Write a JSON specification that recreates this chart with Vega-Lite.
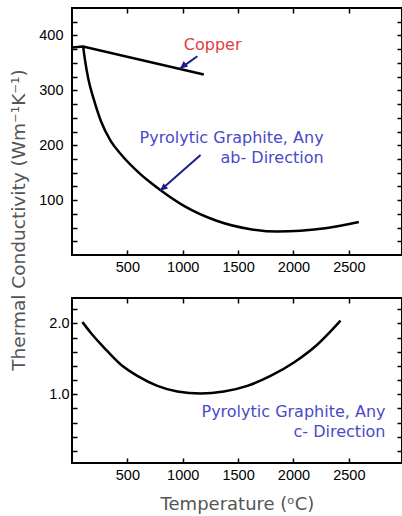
{
  "$schema": "https://vega.github.io/schema/vega-lite/v6.json",
  "padding": {"left": 7, "top": 6, "right": 0, "bottom": 0},
  "background": "white",
  "spacing": 43,
  "bounds": "flush",
  "config": {
    "view": {"stroke": "black", "strokeWidth": 2},
    "axis": {"domain": false, "grid": false, "ticks": true, "zindex": 1, "tickColor": "black", "tickOpacity": 1, "tickWidth": 1.5, "tickSize": -5,
      "labelFont": "Liberation Sans", "labelFontSize": 14.5, "labelColor": "black",
      "titleFont": "DejaVu Sans", "titleFontSize": 18, "titleColor": "#555", "titleFontWeight": "normal"},
    "text": {"font": "DejaVu Sans", "fontSize": 16}
  },
  "datasets": {
    "copper": [
      {"temp": 0, "k": 378},
      {"temp": 100, "k": 380},
      {"temp": 1190, "k": 329}
    ],
    "ab": [
      {"temp": 100, "k": 381},
      {"temp": 116, "k": 357},
      {"temp": 148, "k": 320},
      {"temp": 199, "k": 282},
      {"temp": 259, "k": 245},
      {"temp": 349, "k": 208},
      {"temp": 440, "k": 184},
      {"temp": 620, "k": 147},
      {"temp": 709, "k": 132},
      {"temp": 800, "k": 118},
      {"temp": 1011, "k": 89.5},
      {"temp": 1312, "k": 62},
      {"temp": 1613, "k": 47},
      {"temp": 1854, "k": 42.6},
      {"temp": 2064, "k": 44},
      {"temp": 2305, "k": 49},
      {"temp": 2590, "k": 60}
    ],
    "bottom": [
      {"temp": 94, "k": 2.02},
      {"temp": 169, "k": 1.87},
      {"temp": 289, "k": 1.66},
      {"temp": 440, "k": 1.42},
      {"temp": 590, "k": 1.26},
      {"temp": 771, "k": 1.12},
      {"temp": 951, "k": 1.04},
      {"temp": 1162, "k": 1.01},
      {"temp": 1372, "k": 1.04},
      {"temp": 1583, "k": 1.12},
      {"temp": 1793, "k": 1.26},
      {"temp": 2004, "k": 1.45},
      {"temp": 2214, "k": 1.70},
      {"temp": 2425, "k": 2.04}
    ],
    "arrows": [
      {"x1": 1132, "y1": 362, "x2": 975, "y2": 339.5},
      {"x1": 1161, "y1": 182, "x2": 794, "y2": 117}
    ],
    "labelsTop": [
      {"material": "copper", "temp": 1270, "k": 382, "label": "Copper"},
      {"material": "graphite", "temp": 2272, "k": 212.6, "label": "Pyrolytic Graphite, Any"},
      {"material": "graphite", "temp": 2272, "k": 177, "label": "ab- Direction"}
    ],
    "labelsBottom": [
      {"material": "graphite", "temp": 2831, "k": 0.75, "label": "Pyrolytic Graphite, Any"},
      {"material": "graphite", "temp": 2831, "k": 0.47, "label": "c- Direction"}
    ]
  },
  "vconcat": [
    {
      "width": 330,
      "height": 247,
      "layer": [
        {
          "data": {"name": "ab"},
          "mark": {"type": "line", "color": "black", "strokeWidth": 2.5, "interpolate": "monotone"},
          "encoding": {
            "x": {"field": "temp", "type": "quantitative", "scale": {"domain": [0, 2980], "nice": false},
              "axis": {"orient": "bottom", "values": [500, 1000, 1500, 2000, 2500], "format": "d", "title": null, "labelPadding": 10}},
            "y": {"field": "k", "type": "quantitative", "scale": {"domain": [0, 450], "nice": false},
              "axis": {"orient": "left", "values": [25, 50, 75, 100, 125, 150, 175, 200, 225, 250, 275, 300, 325, 350, 375, 400, 425],
                "labelExpr": "datum.value % 100 == 0 ? datum.label : ''", "labelPadding": 14,
                "title": "Thermal Conductivity (Wm⁻¹K⁻¹)", "titleFontSize": 18.5, "titleX": -54, "titleY": 211.5, "titleBaseline": "middle", "titleAngle": 270}}
          }
        },
        {
          "data": {"name": "copper"},
          "mark": {"type": "line", "color": "black", "strokeWidth": 2.5},
          "encoding": {
            "x": {"field": "temp", "type": "quantitative", "axis": null},
            "y": {"field": "k", "type": "quantitative", "axis": null}
          }
        },
        {
          "data": {"name": "arrows"},
          "mark": {"type": "rule", "color": "#1c1c8a", "strokeWidth": 2},
          "encoding": {
            "x": {"field": "x1", "type": "quantitative",
              "axis": {"orient": "top", "values": [500, 1000, 1500, 2000, 2500], "labels": false, "title": null}},
            "y": {"field": "y1", "type": "quantitative",
              "axis": {"orient": "right", "values": [25, 50, 75, 100, 125, 150, 175, 200, 225, 250, 275, 300, 325, 350, 375, 400, 425], "labels": false, "title": null}},
            "x2": {"field": "x2"},
            "y2": {"field": "y2"}
          }
        },
        {
          "data": {"name": "arrows"},
          "mark": {"type": "point", "shape": "M0,0 L-1,2.2 L1,2.2 Z", "filled": true, "color": "#1c1c8a", "size": 49, "opacity": 1},
          "encoding": {
            "x": {"field": "x2", "type": "quantitative", "axis": null},
            "y": {"field": "y2", "type": "quantitative", "axis": null},
            "angle": {"value": 230}
          }
        },
        {
          "data": {"name": "labelsTop"},
          "transform": [{"filter": "datum.material == 'copper'"}],
          "mark": {"type": "text", "align": "center", "baseline": "middle"},
          "encoding": {
            "x": {"field": "temp", "type": "quantitative", "axis": null},
            "y": {"field": "k", "type": "quantitative", "axis": null},
            "text": {"field": "label"},
            "color": {"field": "material", "type": "nominal", "scale": {"domain": ["copper", "graphite"], "range": ["#e03c3c", "#4a4ac8"]}, "legend": null}
          }
        },
        {
          "data": {"name": "labelsTop"},
          "transform": [{"filter": "datum.material == 'graphite'"}],
          "mark": {"type": "text", "align": "right", "baseline": "middle"},
          "encoding": {
            "x": {"field": "temp", "type": "quantitative", "axis": null},
            "y": {"field": "k", "type": "quantitative", "axis": null},
            "text": {"field": "label"},
            "color": {"field": "material", "type": "nominal", "scale": {"domain": ["copper", "graphite"], "range": ["#e03c3c", "#4a4ac8"]}, "legend": null}
          }
        }
      ],
      "resolve": {"axis": {"x": "independent", "y": "independent"}}
    },
    {
      "width": 330,
      "height": 165,
      "layer": [
        {
          "data": {"name": "bottom"},
          "mark": {"type": "line", "color": "black", "strokeWidth": 2.5, "interpolate": "monotone"},
          "encoding": {
            "x": {"field": "temp", "type": "quantitative", "scale": {"domain": [0, 2980], "nice": false},
              "axis": {"orient": "bottom", "values": [500, 1000, 1500, 2000, 2500], "format": "d", "labelPadding": 10,
                "title": "Temperature (ᵒC)", "titlePadding": 14}},
            "y": {"field": "k", "type": "quantitative", "scale": {"domain": [0.03, 2.36], "nice": false, "zero": false},
              "axis": {"orient": "left", "values": [0.2, 0.4, 0.6, 0.8, 1.0, 1.2, 1.4, 1.6, 1.8, 2.0, 2.2],
                "labelExpr": "datum.value == 1 || datum.value == 2 ? format(datum.value, '.1f') : ''", "labelPadding": 8, "title": null}}
          }
        },
        {
          "data": {"name": "labelsBottom"},
          "mark": {"type": "text", "align": "right", "baseline": "middle"},
          "encoding": {
            "x": {"field": "temp", "type": "quantitative",
              "axis": {"orient": "top", "values": [500, 1000, 1500, 2000, 2500], "labels": false, "title": null}},
            "y": {"field": "k", "type": "quantitative",
              "axis": {"orient": "right", "values": [0.2, 0.4, 0.6, 0.8, 1.0, 1.2, 1.4, 1.6, 1.8, 2.0, 2.2], "labels": false, "title": null}},
            "text": {"field": "label"},
            "color": {"field": "material", "type": "nominal", "scale": {"domain": ["copper", "graphite"], "range": ["#e03c3c", "#4a4ac8"]}, "legend": null}
          }
        }
      ],
      "resolve": {"axis": {"x": "independent", "y": "independent"}}
    }
  ]
}
